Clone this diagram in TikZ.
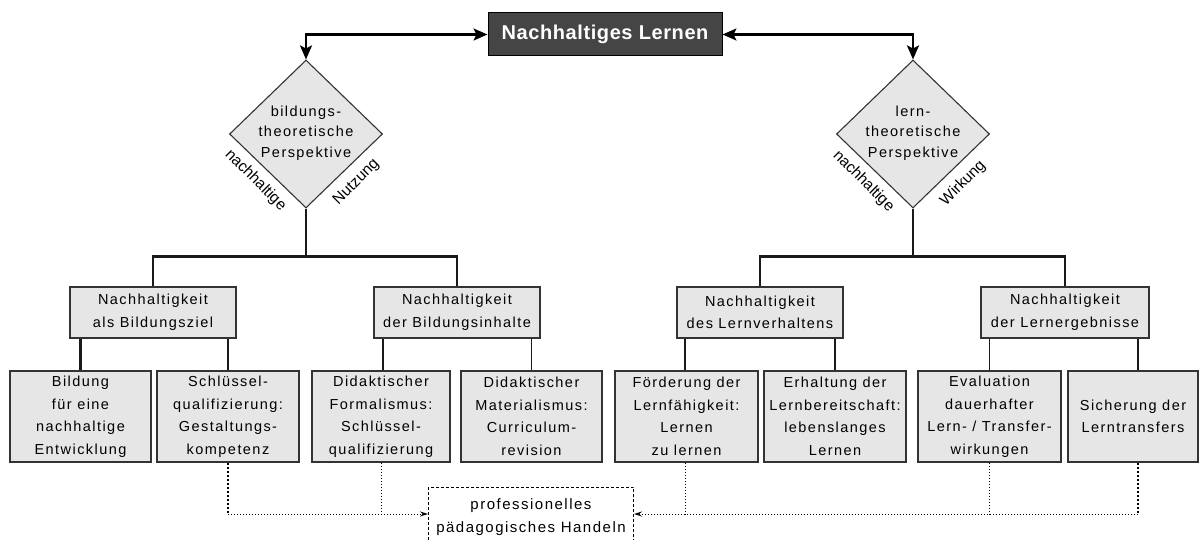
\documentclass[tikz,border=0pt]{standalone}
\usepackage{fontspec}
\setmainfont{Liberation Sans}[LetterSpace=10]
\newfontfamily\titlefont{Liberation Sans}[LetterSpace=3]
\newfontfamily\lblfont{Liberation Sans}
\usetikzlibrary{shapes.geometric,arrows.meta,calc}
\definecolor{boxfill}{HTML}{E6E6E6}
\definecolor{boxdraw}{HTML}{333333}
\definecolor{titlefill}{HTML}{454545}
\definecolor{linecol}{HTML}{1A1A1A}
\tikzset{
  txt/.style={font=\fontsize{14.5}{22.5}\selectfont, align=center, text=black},
  lvtwo/.style={txt, draw=boxdraw, fill=boxfill, line width=1.3pt, inner sep=0pt, minimum height=51pt},
  lvthree/.style={txt, draw=boxdraw, fill=boxfill, line width=1.3pt, inner sep=0pt, minimum height=91pt},
  persp/.style={diamond, draw=boxdraw, fill=boxfill, line width=1.1pt, minimum width=153pt, minimum height=148pt, inner sep=0pt},
  persptxt/.style={font=\fontsize{14.5}{20.5}\selectfont, align=center, text=black, inner sep=0pt},
  edgelbl/.style={font=\lblfont\fontsize{15.5}{18}\selectfont, text=black, inner sep=0pt},
  thickln/.style={draw=linecol, line width=2.6pt},
  thinln/.style={draw=linecol, line width=1.6pt},
  branchln/.style={draw=linecol, line width=2.3pt, line join=miter},
  toparr/.style={draw=black, line width=2.2pt, {Stealth[length=14pt,width=12pt,inset=3pt]}-{Stealth[length=14pt,width=12pt,inset=3pt]}},
  dotthin/.style={draw=black, line width=1pt, dotted},
  dotthick/.style={draw=black, line width=2pt, dotted},
  smallarr/.style={-{Stealth[length=8pt,width=5pt]}},
  pbox/.style={font=\fontsize{15}{23}\selectfont, align=center, draw=black, line width=1pt, dash pattern=on 3pt off 2pt, minimum width=205pt, minimum height=60pt, inner sep=0pt},
}
\begin{document}
\begin{tikzpicture}[x=1pt,y=-1pt]
\useasboundingbox (0,0) rectangle (1203,540);
\fill[white] (0,0) rectangle (1203,540);
\clip (0,0) rectangle (1203,540);

% title
\node[font=\titlefont\bfseries\fontsize{20}{24}\selectfont, text=white, fill=titlefill, draw=black, line width=1pt, minimum width=234pt, minimum height=43pt, inner sep=0pt] (title) at (605,34.5) {Nachhaltiges Lernen};

% perspectives
\node[persp] (d1) at (306,134) {};
\node[persptxt] (d1t) at ($(d1.center)+(0,-1)$) {bildungs-\\theoretische\\Perspektive};
\node[persp] (d2) at (913,134) {};
\node[persptxt] (d2t) at ($(d2.center)+(0,-1)$) {lern-\\theoretische\\Perspektive};

\node[edgelbl, rotate=-45] (l1) at ($(d1.west)!0.5!(d1.south)+(-12,9)$) {nachhaltige};
\node[edgelbl, rotate=45] (l2) at ($(d1.south)!0.5!(d1.east)+(12,11)$) {Nutzung};
\node[edgelbl, rotate=-45] (l3) at ($(d2.west)!0.5!(d2.south)+(-11,10)$) {nachhaltige};
\node[edgelbl, rotate=45] (l4) at ($(d2.south)!0.5!(d2.east)+(11.5,12)$) {Wirkung};

\draw[toparr] (d1.north) |- (title.west);
\draw[toparr] (d2.north) |- (title.east);

% level 2
\node[lvtwo, minimum width=166pt] (a1) at (153,312.5) {Nachhaltigkeit\\als Bildungsziel};
\node[lvtwo, minimum width=166pt] (a2) at (457,312.5) {Nachhaltigkeit\\der Bildungsinhalte};
\node[lvtwo, minimum width=166pt] (a3) at (760,312.5) {Nachhaltigkeit\\des Lernverhaltens};
\node[lvtwo, minimum width=168pt] (a4) at (1065,312.5) {Nachhaltigkeit\\der Lernergebnisse};

% level 3
\node[lvthree, minimum width=141pt] (b1) at (80.5,416.5) {Bildung\\für eine\\nachhaltige\\Entwicklung};
\node[lvthree, minimum width=142pt] (b2) at (228,416.5) {Schlüssel-\\qualifizierung:\\Gestaltungs-\\kompetenz};
\node[lvthree, minimum width=138pt] (b3) at (381,416.5) {Didaktischer\\Formalismus:\\Schlüssel-\\qualifizierung};
\node[lvthree, minimum width=141pt] (b4) at (531.5,416.5) {Didaktischer\\Materialismus:\\Curriculum-\\revision};
\node[lvthree, minimum width=143pt] (b5) at (686.5,416.5) {Förderung der\\Lernfähigkeit:\\Lernen\\zu lernen};
\node[lvthree, minimum width=142pt] (b6) at (835,416.5) {Erhaltung der\\Lernbereitschaft:\\lebenslanges\\Lernen};
\node[lvthree, minimum width=143pt] (b7) at (989.5,416.5) {Evaluation\\dauerhafter\\Lern- / Transfer-\\wirkungen};
\node[lvthree, minimum width=130pt] (b8) at (1133,416.5) {Sicherung der\\Lerntransfers};

% professional action
\node[pbox] (pb) at (531,517) {professionelles\\pädagogisches Handeln};

% tree connectors
\coordinate (j1) at ($(d1.south)+(0,48)$);
\coordinate (j2) at ($(d2.south)+(0,48)$);
\draw[thinln] (d1.south) -- (j1);
\draw[thinln] (d2.south) -- (j2);
\draw[branchln] (a1.north) -- (a1.north |- j1) -- (a2.north |- j1) -- (a2.north);
\draw[branchln] (a3.north) -- (a3.north |- j2) -- (a4.north |- j2) -- (a4.north);

\draw[thickln] (a1.south -| b1.north) -- (b1.north);
\draw[thickln] (a1.south -| b2.north) -- (b2.north);
\draw[thinln] ($(a2.south -| b3.north)+(2,0)$) -- ($(b3.north)+(2,0)$);
\draw[thinln] (a2.south -| b4.north) -- (b4.north);
\draw[thinln] ($(a3.south -| b5.north)+(-1.5,0)$) -- ($(b5.north)+(-1.5,0)$);
\draw[thickln] (a3.south -| b6.north) -- (b6.north);
\draw[thinln] (a4.south -| b7.north) -- (b7.north);
\draw[thickln] ($(a4.south -| b8.north)+(5,0)$) -- ($(b8.north)+(5,0)$);

% dotted connectors
\coordinate (pl) at ($(pb.west)+(0,-3)$);
\coordinate (pr) at ($(pb.east)+(0,-3)$);
\draw[dotthick] (b2.south) -- (b2.south |- pl);
\draw[dotthin, smallarr] (b2.south |- pl) -- (pl);
\draw[dotthin] (b3.south) -- (b3.south |- pl);
\coordinate (b8d) at ($(b8.south)+(5,0)$);
\draw[dotthick] (b8d) -- (b8d |- pr);
\draw[dotthin, smallarr] (b8d |- pr) -- (pr);
\draw[dotthin] ($(b5.south)+(-1.5,0)$) -- ($(b5.south |- pr)+(-1.5,0)$);
\draw[dotthin] (b7.south) -- (b7.south |- pr);
\end{tikzpicture}
\end{document}
